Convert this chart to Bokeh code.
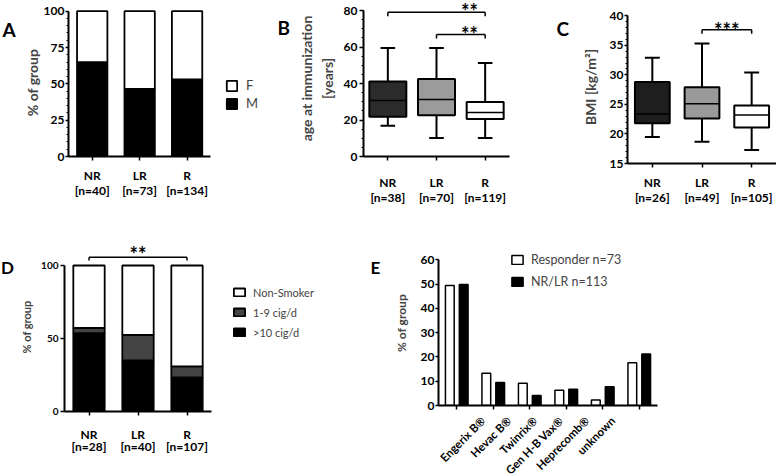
import math
from bokeh.plotting import figure
from bokeh.layouts import column, row
from bokeh.models import (ColumnDataSource, FactorRange, Range1d, FixedTicker,
                          Legend, LegendItem)
from bokeh.transform import dodge
from bokeh.core.properties import value
from bokeh.embed import file_html
from bokeh.resources import INLINE

FONT = "Lato"

# ---------------- data ----------------
groups = ["NR", "LR", "R"]

# A: sex
a_n = [40, 73, 134]
a_male = [65.0, 46.6, 53.0]
a_female = [35.0, 53.4, 47.0]
a_yticks = [0, 25, 50, 75, 100]

# B: age at immunization
b_n = [38, 70, 119]
b_low = [16.8, 10.2, 10.2]
b_q1 = [21.8, 22.6, 20.5]
b_med = [30.7, 31.2, 24.1]
b_q3 = [41.1, 42.4, 29.8]
b_high = [59.4, 59.4, 51.3]
b_colors = ["#2b2b2b", "#9b9b9b", "#ffffff"]
b_yticks = [0, 20, 40, 60, 80]

# C: BMI
c_n = [26, 49, 105]
c_low = [19.5, 18.7, 17.3]
c_q1 = [21.8, 22.6, 21.1]
c_med = [23.4, 25.1, 23.2]
c_q3 = [28.8, 27.9, 24.8]
c_high = [32.9, 35.3, 30.4]
c_colors = ["#1e1e1e", "#9a9a9a", "#ffffff"]
c_yticks = [15, 20, 25, 30, 35, 40]

# D: smoking
d_n = [28, 40, 107]
d_heavy = [53.6, 35.0, 23.4]
d_light = [3.6, 17.5, 7.5]
d_non = [42.8, 47.5, 69.1]
d_yticks = [0, 50, 100]

# E: vaccine
vaccines = ["Engerix B\u00ae", "Hevac B\u00ae", "Twinrix\u00ae", "Gen H-B Vax\u00ae",
            "Heprecomb\u00ae", "unknown"]
e_resp = [49.4, 13.3, 9.2, 6.3, 2.3, 17.6]
e_nrlr = [49.8, 9.5, 4.1, 6.7, 7.7, 21.2]
e_yticks = [0, 10, 20, 30, 40, 50, 60]


def n_labels(ns):
    return [f"[n={n}]" for n in ns]


def base_fig(width, height, xr, yr, left, right, top, bottom):
    p = figure(width=width, height=height, x_range=xr, y_range=yr, title=None,
               output_backend="svg", toolbar_location=None,
               min_border_left=left, min_border_right=right,
               min_border_top=top, min_border_bottom=bottom)
    p.xgrid.visible = False
    p.ygrid.visible = False
    p.outline_line_color = None
    return p


def text_fig(width, height, xr=None, left=0, right=0):
    p = figure(width=width, height=height,
               x_range=xr if xr is not None else Range1d(0, width),
               y_range=Range1d(0, height), x_axis_type=None, y_axis_type=None,
               title=None, output_backend="svg", toolbar_location=None,
               min_border_left=left, min_border_right=right,
               min_border_top=0, min_border_bottom=0)
    p.outline_line_color = None
    return p


def put_text(p, x, y, t, size, angle=0.0, align="left", baseline="alphabetic"):
    p.text(x=[x], y=[y], text=[t], angle=angle, text_font=value(FONT),
           text_font_style="bold", text_font_size=size, text_color="black",
           text_align=align, text_baseline=baseline)


def cat_text_fig(main, width, height, left, right, xs, names, ns, y1, y2, size="12px"):
    p = text_fig(width, height, xr=main.x_range, left=left, right=right)
    src = ColumnDataSource(dict(x=xs, a=names, b=n_labels(ns)))
    for col, yy in (("a", y1), ("b", y2)):
        p.text(x="x", y=yy, text=col, source=src, text_font=value(FONT),
               text_font_style="bold", text_font_size=size, text_color="black",
               text_align="center", text_baseline="alphabetic")
    return p


def style_axes(p, ylabel, yticks, yminor, ybounds, tick_px, label_px,
               label_standoff, tick_out=4, lab_standoff=2):
    xa = p.xaxis[0]
    ya = p.yaxis[0]
    ya.ticker = FixedTicker(ticks=yticks, minor_ticks=yminor)
    ya.bounds = ybounds
    if ylabel:
        ya.axis_label = ylabel
        ya.axis_label_text_font = FONT
        ya.axis_label_text_font_style = "bold"
        ya.axis_label_text_font_size = label_px
        ya.axis_label_standoff = label_standoff
    for ax in (xa, ya):
        ax.axis_line_width = 2
        ax.axis_line_color = "black"
        ax.major_tick_line_width = 1.5
        ax.major_tick_line_color = "black"
        ax.major_tick_in = 0
        ax.major_tick_out = tick_out
        ax.minor_tick_in = 0
        ax.minor_tick_out = 2
        ax.minor_tick_line_width = 1
        ax.minor_tick_line_color = "black"
        ax.major_label_text_font = FONT
        ax.major_label_text_font_style = "bold"
        ax.major_label_text_color = "black"
        ax.major_label_standoff = lab_standoff
    ya.major_label_text_font_size = tick_px
    # category names are drawn in the strip below; this axis keeps only its ticks
    xa.major_label_text_font_size = "1px"
    xa.major_label_text_color = None
    xa.major_label_text_alpha = 0
    xa.major_label_standoff = 0
    xa.major_tick_out = 4


def add_bracket(p, x0, x1, yb, tick):
    src = ColumnDataSource(dict(x0=[x0, x0, x1], x1=[x1, x0, x1],
                                y0=[yb, yb, yb], y1=[yb, yb - tick, yb - tick]))
    p.segment(x0="x0", x1="x1", y0="y0", y1="y1", source=src,
              line_color="black", line_width=1.5)


def add_stars(p, xs, ys, texts, off=None):
    src = ColumnDataSource(dict(x=xs, y=ys, t=texts))
    xspec = dodge("x", off, range=p.x_range) if off is not None else "x"
    p.text(x=xspec, y="y", text="t", source=src,
           text_font=value(FONT), text_font_style="bold", text_font_size="20px",
           text_align="center", text_baseline="alphabetic", text_color="black")


def add_boxes(p, labels, low, q1, med, q3, high, colors, bw, cw):
    src = ColumnDataSource(dict(x=labels, low=low, q1=q1, med=med, q3=q3,
                                high=high, c=colors))
    p.segment(x0="x", x1="x", y0="low", y1="q1", source=src, line_color="black", line_width=2)
    p.segment(x0="x", x1="x", y0="q3", y1="high", source=src, line_color="black", line_width=2)
    for col in ("low", "high"):
        p.segment(x0=dodge("x", -cw / 2, range=p.x_range), x1=dodge("x", cw / 2, range=p.x_range),
                  y0=col, y1=col, source=src, line_color="black", line_width=2)
    p.vbar(x="x", bottom="q1", top="q3", width=bw, source=src, fill_color="c",
           line_color="black", line_width=2)
    p.segment(x0=dodge("x", -bw / 2, range=p.x_range), x1=dodge("x", bw / 2, range=p.x_range),
              y0="med", y1="med", source=src, line_color="black", line_width=1.5)


def legend(items, loc, gw, gh, lh, spacing, size, standoff):
    return Legend(items=items, location=loc, glyph_width=gw, glyph_height=gh,
                  label_height=lh, spacing=spacing, padding=0, margin=0,
                  border_line_color=None, background_fill_alpha=0,
                  label_text_font=FONT, label_text_font_size=size,
                  label_standoff=standoff)


# ================= ROW 1 =================
H1 = 230

LA = text_fig(20, H1)
put_text(LA, 2, H1 - 29, "A", "19px")

# A (numeric positions so the frame can also hold the legend)
a_pos = list(range(len(groups)))
pA = base_fig(240, 164, Range1d(-0.5, -0.5 + 197 / 48.67), Range1d(0, 101.86), 43, 0, 8, 8)
srcA = ColumnDataSource(dict(x=a_pos, M=a_male, F=a_female))
rA = pA.vbar_stack(["M", "F"], x="x", width=0.64, source=srcA,
                   fill_color=["black", "white"], line_color="black", line_width=1.8)
style_axes(pA, "% of group", a_yticks, list(range(0, 101, 5)), (0, 100),
           "12px", "14px", 0, tick_out=3, lab_standoff=1)
pA.xaxis[0].ticker = FixedTicker(ticks=a_pos, minor_ticks=[])
pA.xaxis[0].bounds = (-0.5, len(groups) - 0.5)
pA.add_layout(legend([LegendItem(label="F", renderers=[rA[1]]),
                      LegendItem(label="M", renderers=[rA[0]])],
                     (157, 45), 13, 13, 16, 2, "13px", 8))
tA = cat_text_fig(pA, 240, 66, 43, 0, a_pos, groups, a_n, 55, 40)

LB = text_fig(35, H1)
put_text(LB, 17, H1 - 26.7, "B", "19px")

pB = base_fig(225, 164, FactorRange(factors=groups, range_padding=0), Range1d(0, 85.48), 68, 11, 0, 8)
add_boxes(pB, groups, b_low, b_q1, b_med, b_q3, b_high, b_colors, 0.76, 0.3)
style_axes(pB, "age at immunization\n[years]", b_yticks, list(range(0, 81, 5)), (0, 80),
           "12px", "14px", 5)
add_bracket(pB, groups[0], groups[2], 79.07, 2.2)
add_bracket(pB, groups[1], groups[2], 66.85, 2.2)
add_stars(pB, [groups[2], groups[2]], [80.0, 67.34], ["**", "**"], -0.32)
tB = cat_text_fig(pB, 225, 66, 68, 11, groups, groups, b_n, 48, 33)

LC = text_fig(55, H1)
put_text(LC, 36, H1 - 28.3, "C", "19px")

pC = base_fig(201, 171, FactorRange(factors=groups, range_padding=0), Range1d(15, 40.9), 52, 0, 10, 8)
add_boxes(pC, groups, c_low, c_q1, c_med, c_q3, c_high, c_colors, 0.70, 0.3)
style_axes(pC, "BMI [kg/m\u00b2]", c_yticks, list(range(15, 41, 1)), (15, 40),
           "12px", "14px", 8, tick_out=3, lab_standoff=1)
add_bracket(pC, groups[1], groups[2], 37.63, 0.68)
add_stars(pC, [groups[2]], [37.56], ["***"], -0.5)
tC = cat_text_fig(pC, 201, 59, 52, 0, groups, groups, c_n, 48.3, 33.5)

# ================= ROW 2 =================
H2 = 246

LD = text_fig(14, H2)
put_text(LD, 0.5, H2 - 37, "D", "17px")

d_pos = list(range(len(groups)))
pD = base_fig(346, 189, Range1d(-0.5, -0.5 + 296 / 49.0), Range1d(0, 115.75), 50, 0, 12, 8)
srcD = ColumnDataSource(dict(x=d_pos, heavy=d_heavy, light=d_light, non=d_non))
rD = pD.vbar_stack(["heavy", "light", "non"], x="x", width=0.64, source=srcD,
                   fill_color=["black", "#444444", "white"], line_color="black",
                   line_width=1.8)
style_axes(pD, "% of group", d_yticks, [], (0, 100), "10px", "11px", 5)
pD.xaxis[0].ticker = FixedTicker(ticks=d_pos, minor_ticks=[])
pD.xaxis[0].bounds = (-0.5, len(groups) - 0.5)
add_bracket(pD, d_pos[0], d_pos[2], 105.7, 2.3)
add_stars(pD, [d_pos[1]], [107.8], ["**"])
pD.add_layout(legend([LegendItem(label="Non-Smoker", renderers=[rD[2]]),
                      LegendItem(label="1-9 cig/d", renderers=[rD[1]]),
                      LegendItem(label=">10 cig/d", renderers=[rD[0]])],
                     (168, 72), 14, 10, 14, 6, "11px", 7))
tD = cat_text_fig(pD, 346, 57, 50, 0, d_pos, groups, d_n, 42, 30)

LE = text_fig(30, H2)
put_text(LE, 10, H2 - 37, "E", "17px")

pE = base_fig(386, 183, FactorRange(factors=vaccines, range_padding=0),
              Range1d(0, 67.96), 45, 119, 10, 8)
srcE = ColumnDataSource(dict(x=vaccines, resp=e_resp, nrlr=e_nrlr))
rE1 = pE.vbar(x=dodge("x", -0.19, range=pE.x_range), top="resp", width=0.24, source=srcE,
              fill_color="white", line_color="black", line_width=1.5)
rE2 = pE.vbar(x=dodge("x", 0.19, range=pE.x_range), top="nrlr", width=0.24, source=srcE,
              fill_color="black", line_color="black", line_width=1.5)
style_axes(pE, "% of group", e_yticks, [], (0, 60), "12px", "12px", 9,
           tick_out=3, lab_standoff=1)
pE.add_layout(legend([LegendItem(label="Responder n=73", renderers=[rE1]),
                      LegendItem(label="NR/LR n=113", renderers=[rE2])],
                     (72, 116), 14, 11, 15, 7, "12.5px", 7))

# rotated vaccine names; the strip's frame is 45 px wider on each side than the
# chart frame above, with the same 37 px per factor
tE = text_fig(386, 63, xr=FactorRange(factors=vaccines,
                                      range_padding=2 * (45 / 37) / len(vaccines)),
              left=0, right=74)
tE.text(x="x", y=58, text="x", source=ColumnDataSource(dict(x=vaccines)),
        angle=math.pi / 4, text_font=value(FONT), text_font_style="bold",
        text_font_size="11.5px", text_color="black", text_align="right",
        text_baseline="middle")

layout = column(
    row(LA, column(pA, tA), LB, column(pB, tB), LC, column(pC, tC)),
    row(LD, column(pD, tD), LE, column(pE, tE)),
)
open("out.html", "w").write(file_html(layout, INLINE))
